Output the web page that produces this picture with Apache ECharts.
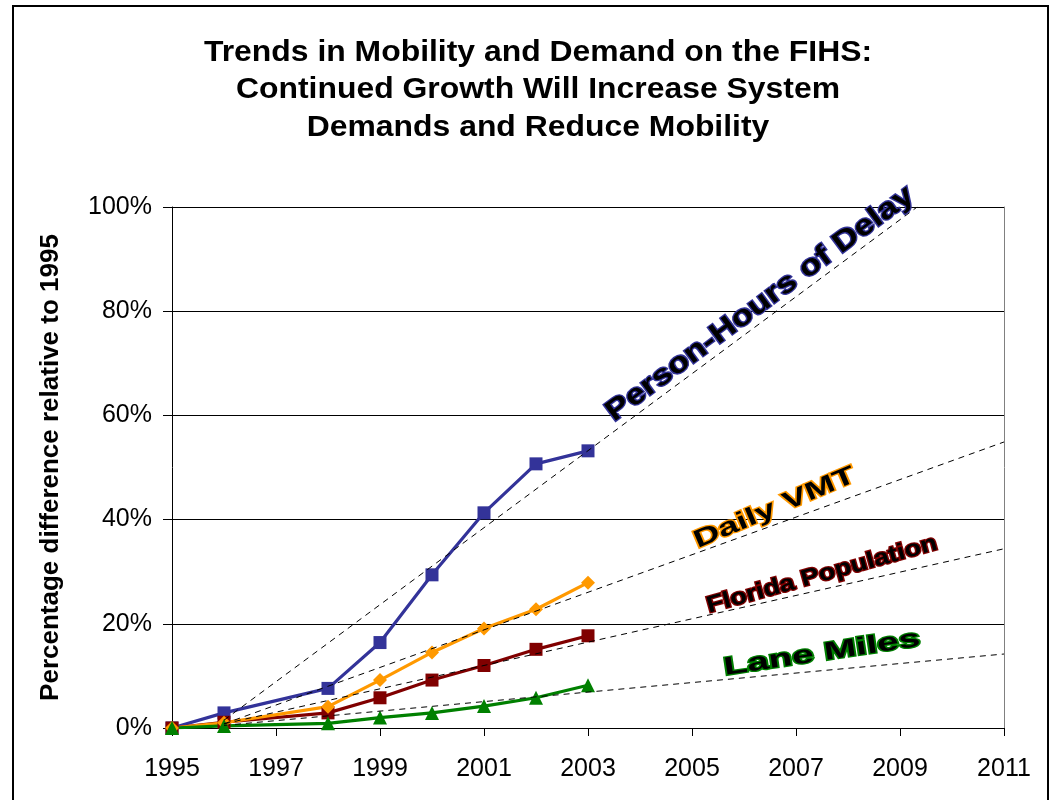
<!DOCTYPE html>
<html>
<head>
<meta charset="utf-8">
<script src="https://cdn.jsdelivr.net/npm/echarts@6/dist/echarts.min.js"></script>
<style>
html,body{margin:0;padding:0;background:#fff;}
#chart{width:1054px;height:800px;}
</style>
</head>
<body>
<div id="chart"></div>
<script>
// ---- data ----
const baseYear = 1995;
const years = [1995, 1996, 1998, 1999, 2000, 2001, 2002, 2003];
const delay = [0, 2.9, 7.6, 16.4, 29.4, 41.3, 50.7, 53.2];
const vmt = [0, 1.0, 4.1, 9.2, 14.5, 19.1, 22.8, 27.9];
const population = [0, 1.1, 2.9, 5.8, 9.2, 12.0, 15.1, 17.7];
const laneMiles = [0, 0.4, 0.9, 2.0, 2.9, 4.2, 5.8, 8.2];
// dashed trend lines: [year, percent] endpoints
const trendDelay = [[1996, 1.5], [2009.33, 100]];
const trendVmt = [[1996, 0.8], [2011, 54.9]];
const trendPopulation = [[1996, 0.8], [2011, 34.4]];
const trendLaneMiles = [[1996, 0.5], [2011, 14.2]];
const xMinYear = 1995, xMaxYear = 2011;
const yTickLabels = ['0%', '20%', '40%', '60%', '80%', '100%'];
const seriesNames = ['Person-Hours of Delay', 'Daily VMT', 'Florida Population', 'Lane Miles'];
const titleText = 'Trends in Mobility and Demand on the FIHS:\nContinued Growth Will Increase System\nDemands and Reduce Mobility';
const yAxisName = 'Percentage difference relative to 1995';

// ---- annotation placement (data coords) and styles ----
const FONT = '"Liberation Sans", Arial, sans-serif';
const annotations = [
  {name: seriesNames[0], at: [2006.31, 81.4], angle: 36.5, size: 29, scaleX: 1.2, color: '#333399'},
  {name: seriesNames[1], at: [2006.59, 42.2], angle: 23, size: 25, scaleX: 1.45, color: '#FF9900'},
  {name: seriesNames[2], at: [2007.5, 29.4], angle: 15.5, size: 23, scaleX: 1.18, color: '#800000'},
  {name: seriesNames[3], at: [2007.5, 14.3], angle: 8.5, size: 25, scaleX: 1.55, color: '#008000'}
];

const toPairs = (xs, ys) => xs.map((x, i) => [x - baseYear, ys[i]]);
const shift = (pts) => pts.map(p => [p[0] - baseYear, p[1]]);

const chart = echarts.init(document.getElementById('chart'), null, {renderer: 'canvas'});

function lineSeries(name, vals, color, symbol, size) {
  return {
    name, type: 'line', data: toPairs(years, vals),
    symbol, symbolSize: size, showSymbol: true,
    lineStyle: {color, width: 3.2},
    itemStyle: {color, borderWidth: 0},
    z: 3
  };
}
function trendSeries(name, pts) {
  return {
    name, type: 'line', data: shift(pts), symbol: 'none', silent: true,
    lineStyle: {color: '#000', width: 1, type: [6, 5]},
    z: 6
  };
}

const option = {
  animation: false,
  backgroundColor: '#fff',
  grid: {left: 172, right: 50, top: 207, bottom: 72},
  xAxis: {
    type: 'value', min: xMinYear - baseYear, max: xMaxYear - baseYear, interval: 2,
    axisLine: {show: true, onZero: false, lineStyle: {color: '#000', width: 1}},
    axisTick: {show: true, length: 8, lineStyle: {color: '#000'}},
    axisLabel: {formatter: v => String(v + baseYear), fontSize: 25, color: '#000', margin: 29, fontFamily: FONT},
    splitLine: {show: false}
  },
  yAxis: [{
    type: 'value', min: 0, max: 100, interval: 20,
    name: yAxisName, nameLocation: 'middle', nameGap: 108,
    nameTextStyle: {fontSize: 26, fontWeight: 'bold', color: '#000', fontFamily: FONT},
    axisLine: {show: true, lineStyle: {color: '#000', width: 1}},
    axisTick: {show: true, length: 9, lineStyle: {color: '#000'}},
    axisLabel: {formatter: v => yTickLabels[v / 20], fontSize: 25, color: '#000', margin: 20, fontFamily: FONT},
    splitLine: {show: true, lineStyle: {color: '#000', width: 1}}
  }, {
    type: 'value', min: 0, max: 100, position: 'right',
    axisLine: {show: true, lineStyle: {color: '#808080', width: 1}},
    axisTick: {show: false}, axisLabel: {show: false}, splitLine: {show: false}
  }],
  series: [
    lineSeries(seriesNames[0], delay, '#333399', 'rect', 13),
    lineSeries(seriesNames[2], population, '#800000', 'rect', 13),
    lineSeries(seriesNames[1], vmt, '#FF9900', 'diamond', 14),
    lineSeries(seriesNames[3], laneMiles, '#008000', 'triangle', 14),
    trendSeries('t1', trendDelay),
    trendSeries('t2', trendVmt),
    trendSeries('t3', trendPopulation),
    trendSeries('t4', trendLaneMiles)
  ]
};
chart.setOption(option);

const graphics = [
  {
    type: 'rect', shape: {x: 13, y: 6, width: 1035, height: 820},
    style: {fill: 'none', stroke: '#000', lineWidth: 2}, silent: true, z: 100
  },
  {
    type: 'text', x: 538, y: 34, scaleX: 1.1, scaleY: 1, silent: true,
    style: {
      text: titleText, font: 'bold 29px ' + FONT, fill: '#000',
      align: 'center', textAlign: 'center', verticalAlign: 'top', lineHeight: 37.5
    }
  }
];
annotations.forEach(a => {
  const p = chart.convertToPixel({xAxisIndex: 0, yAxisIndex: 0}, [a.at[0] - baseYear, a.at[1]]);
  graphics.push({
    type: 'text', x: p[0], y: p[1], rotation: a.angle * Math.PI / 180, scaleX: a.scaleX, scaleY: 1,
    silent: true, z: 50,
    style: {
      text: a.name, font: 'bold ' + a.size + 'px ' + FONT, fill: '#000',
      stroke: a.color, lineWidth: 2.5,
      align: 'center', textAlign: 'center', verticalAlign: 'middle', textVerticalAlign: 'middle'
    }
  });
});
chart.setOption({graphic: graphics});
</script>
</body>
</html>
